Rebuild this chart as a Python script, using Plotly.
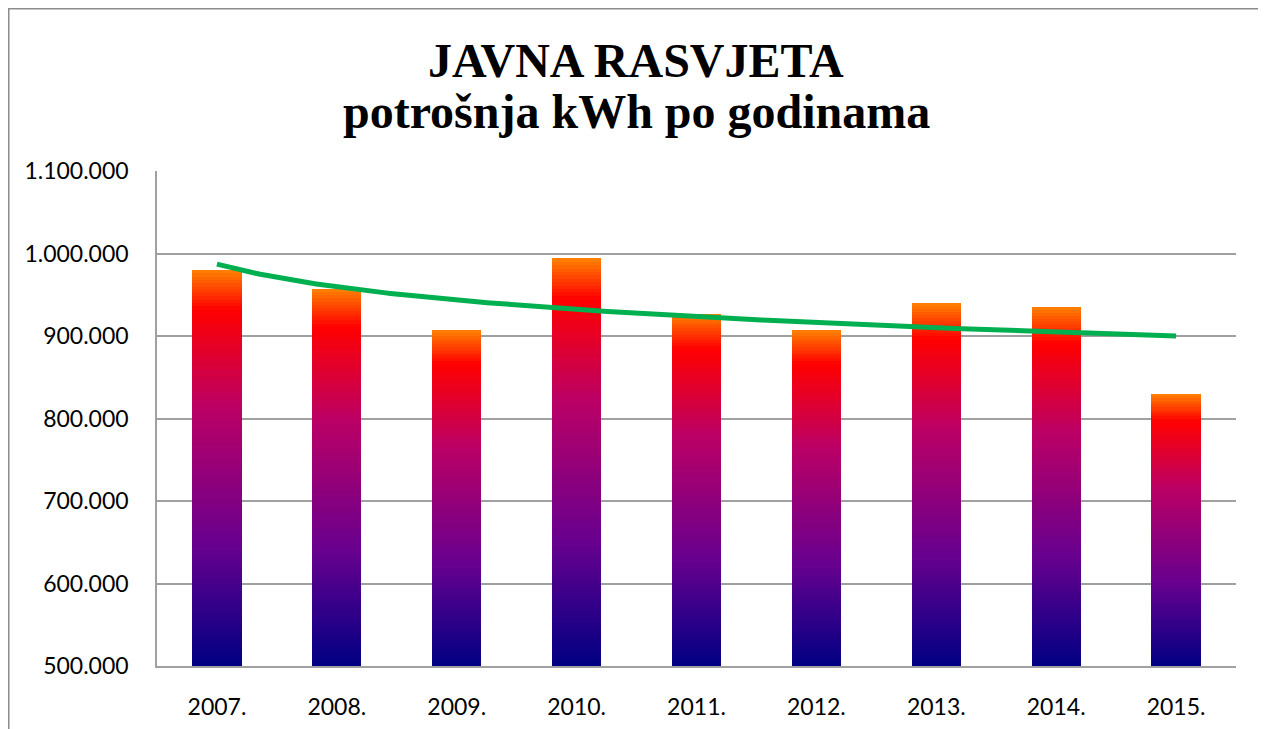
import numpy as np
import plotly.graph_objects as go

# ---- data ----
years = ["2007.", "2008.", "2009.", "2010.", "2011.", "2012.", "2013.", "2014.", "2015."]
consumption_kwh = [980000, 957000, 907000, 994000, 927000, 907000, 940000, 935000, 830000]
y_ticks = [500000, 600000, 700000, 800000, 900000, 1000000, 1100000]
title_line1 = "JAVNA RASVJETA"
title_line2 = "potrošnja kWh po godinama"

# ---- style ----
W, H = 1258, 721          # page has an 8px body margin
L, R, T, B = 149, 30, 163, 63
axis_min, axis_max = 500000, 1100000
# Excel "Late Sunset" gradient, bottom -> top
stops = [(0.0, (0x00, 0x00, 0x82)), (0.30, (0x66, 0x00, 0x8F)),
         (0.65, (0xBA, 0x00, 0x66)), (0.90, (0xFF, 0x00, 0x00)),
         (1.0, (0xFF, 0x82, 0x00))]


def grad_color(f):
    for (p0, c0), (p1, c1) in zip(stops[:-1], stops[1:]):
        if f <= p1:
            t = (f - p0) / (p1 - p0) if p1 > p0 else 0
            c = [round(a + (b - a) * t) for a, b in zip(c0, c1)]
            return "rgb(%d,%d,%d)" % tuple(c)
    return "rgb(%d,%d,%d)" % stops[-1][1]


xpos = np.arange(1, len(years) + 1)
vals = np.array(consumption_kwh, dtype=float)
heights = vals - axis_min

fig = go.Figure()
N = 120
for k in range(N):
    base = axis_min + heights * k / N
    top = axis_min + np.minimum(heights * (k + 1.8) / N, heights)
    fig.add_trace(go.Bar(
        x=xpos, y=top - base, base=base, width=0.41,
        marker=dict(color=grad_color((k + 0.5) / N), line=dict(width=0)),
        showlegend=False, hoverinfo="skip"))

# logarithmic trendline (least squares on ln(x))
b, a = np.polyfit(np.log(xpos), vals, 1)
xs = np.linspace(1, len(years), 200)
fig.add_trace(go.Scatter(x=xs, y=a + b * np.log(xs), mode="lines",
                         line=dict(color="#00B050", width=5),
                         showlegend=False, hoverinfo="skip"))

pw, ph = W - L - R, H - T - B


def px_x(p):
    return (p - L) / pw


def px_y(p):
    return (H - B - p) / ph


fig.add_shape(type="rect", xref="paper", yref="paper",
              x0=px_x(0.5), x1=px_x(1256), y0=px_y(740), y1=px_y(0.5),
              line=dict(color="#8C8C8C", width=2), layer="below")

fig.add_annotation(text="<b>%s</b>" % title_line1, xref="paper", yref="paper",
                   x=px_x(628), y=px_y(52), xanchor="center", yanchor="middle",
                   showarrow=False,
                   font=dict(family="Liberation Serif", size=48, color="black"))
fig.add_annotation(text="<b>%s</b>" % title_line2, xref="paper", yref="paper",
                   x=px_x(628), y=px_y(104), xanchor="center", yanchor="middle",
                   showarrow=False,
                   font=dict(family="Liberation Serif", size=48, color="black"))

fig.update_layout(
    width=W, height=H, margin=dict(l=L, r=R, t=T, b=B, autoexpand=False),
    paper_bgcolor="white", plot_bgcolor="white",
    barmode="overlay", bargap=0, separators=",.",
    font=dict(family="Lato", size=23, color="black"),
    xaxis=dict(range=[0.5, len(years) + 0.5], tickvals=list(xpos), ticktext=years,
               showgrid=False, zeroline=False, showline=True,
               linecolor="#A0A0A0", linewidth=1.5,
               ticks="outside", ticklen=20, tickcolor="rgba(0,0,0,0)",
               tickfont=dict(family="Lato", size=23, color="black")),
    yaxis=dict(range=[axis_min, axis_max], tickvals=y_ticks, tickformat=",d",
               showgrid=True, gridcolor="#A0A0A0", gridwidth=1.5,
               zeroline=False, showline=True, linecolor="#A0A0A0", linewidth=1.5,
               ticks="outside", ticklen=22, tickcolor="rgba(0,0,0,0)",
               tickfont=dict(family="Lato", size=23, color="black")),
)

fig.write_html("out.html")
